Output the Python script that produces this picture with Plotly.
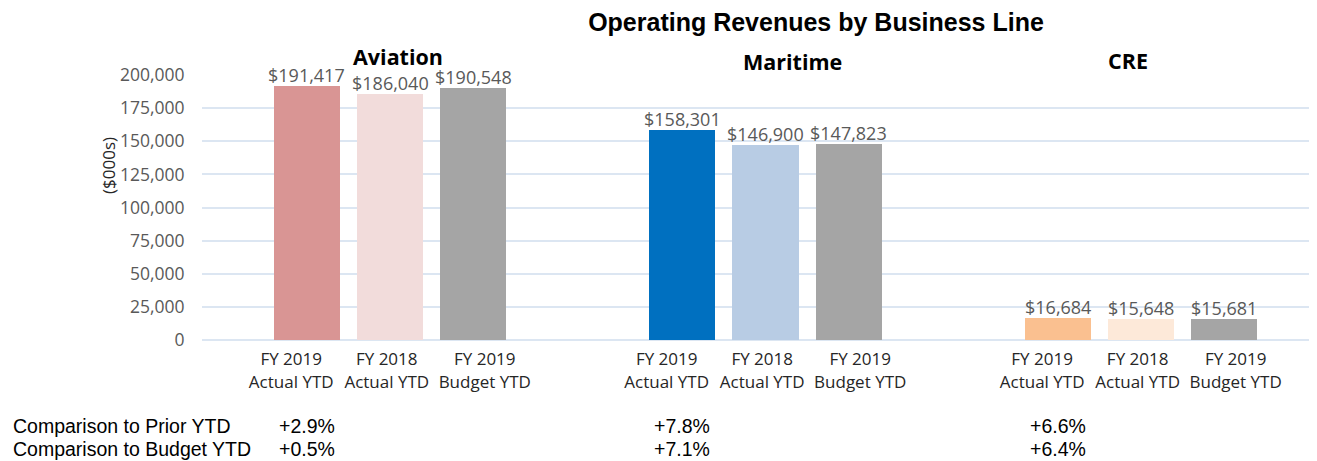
import plotly.graph_objects as go

# ---- data ----
groups = ["Aviation", "Maritime", "CRE"]
bar_labels = ["FY 2019<br>Actual YTD", "FY 2018<br>Actual YTD", "FY 2019<br>Budget YTD"]
aviation = [191417, 186040, 190548]
maritime = [158301, 146900, 147823]
cre = [16684, 15648, 15681]
prior_ytd = ["+2.9%", "+7.8%", "+6.6%"]
budget_ytd = ["+0.5%", "+7.1%", "+6.4%"]
y_ticks = [0, 25000, 50000, 75000, 100000, 125000, 150000, 175000, 200000]

# ---- layout / styling ----
colors = [
    ["#D99594", "#F2DCDB", "#A5A5A5"],
    ["#0070C0", "#B8CCE4", "#A5A5A5"],
    ["#FAC090", "#FDE9D9", "#A5A5A5"],
]
GROUP_STEP = 4.52
tick_shift = [-0.19, -0.04, 0.14]       # label offsets under bars (layout)
title_offsets = [1.1, 5.85, 9.88]       # group title x in data units (layout)
title_ypix = [56, 61, 60]
CAL = "Open Sans"
ARIAL = "Liberation Sans, Arial"

OFF = 8                      # page body margin
W, H = 1317 - OFF, 461 - OFF
PL, PT, PR, PB = 202, 75, 1310, 340   # plot box in page pixels
L, T = PL - OFF, PT - OFF
R, B = W - (PR - OFF), H - (PB - OFF)
PW, PH = PR - PL, PB - PT


def py(ypix):
    return (PB - ypix) / PH


def px(xpix):
    return (xpix - PL) / PW


fig = go.Figure()
series = [aviation, maritime, cre]
tickvals, ticktext = [], []
anns = []
for g, vals in enumerate(series):
    xs = [g * GROUP_STEP + i for i in range(len(vals))]
    tickvals += [x + s for x, s in zip(xs, tick_shift)]
    ticktext += bar_labels
    fig.add_trace(go.Bar(
        x=xs, y=vals, width=0.795,
        marker=dict(color=colors[g], line=dict(width=0)),
        showlegend=False, hoverinfo="skip",
    ))
    for x, v in zip(xs, vals):
        anns.append(dict(x=x, y=v, xref="x", yref="y", text=f"${v:,}",
                         xanchor="center", yanchor="bottom", yshift=-3,
                         showarrow=False,
                         font=dict(family=CAL, size=18, color="#595959")))

fig.update_layout(
    width=W, height=H,
    margin=dict(l=L, r=R, t=T, b=B, autoexpand=False),
    plot_bgcolor="white", paper_bgcolor="white",
    bargap=0,
    title=dict(text="<b>Operating Revenues by Business Line</b>",
               x=(816 - OFF) / W, xanchor="center", xref="container",
               y=1 - (22 - OFF) / H, yanchor="middle", yref="container",
               font=dict(family=ARIAL, size=25, color="#000000")),
    xaxis=dict(range=[-1.264, 2 * GROUP_STEP + 2 + 1.035], tickvals=tickvals, ticktext=ticktext,
               showgrid=False, zeroline=False, showline=False, automargin=False,
               tickangle=0,
               tickfont=dict(family=CAL, size=17, color="#262626"),
               ticks="outside", ticklen=4, tickcolor="rgba(0,0,0,0)"),
    yaxis=dict(range=[0, 200000], tickvals=y_ticks, tickformat=",d", automargin=False,
               showgrid=True, gridcolor="#DCE6F2", gridwidth=2,
               zeroline=True, zerolinecolor="#DCE6F2", zerolinewidth=2,
               showline=False,
               tickfont=dict(family=CAL, size=17.5, color="#595959"),
               ticks="outside", ticklen=13, tickcolor="rgba(0,0,0,0)"),
)

for g, name in enumerate(groups):
    anns.append(dict(x=title_offsets[g], y=py(title_ypix[g]), xref="x", yref="paper",
                     xanchor="center", yanchor="middle",
                     text=f"<b>{name}</b>", showarrow=False,
                     font=dict(family=CAL, size=21.5, color="#000000")))
    anns.append(dict(x=g * GROUP_STEP, y=py(426), xref="x", yref="paper",
                     xanchor="center", yanchor="middle",
                     text=prior_ytd[g], showarrow=False,
                     font=dict(family=ARIAL, size=19.5, color="#000000")))
    anns.append(dict(x=g * GROUP_STEP, y=py(449), xref="x", yref="paper",
                     xanchor="center", yanchor="middle",
                     text=budget_ytd[g], showarrow=False,
                     font=dict(family=ARIAL, size=19.5, color="#000000")))
for text, ypix in [("Comparison to Prior YTD", 426), ("Comparison to Budget YTD", 449)]:
    anns.append(dict(x=px(11), y=py(ypix), xref="paper", yref="paper",
                     text=text, showarrow=False, xanchor="left", yanchor="middle",
                     font=dict(family=ARIAL, size=19.5, color="#000000")))
anns.append(dict(x=px(108), y=py(166), xref="paper", yref="paper",
                 xanchor="center", yanchor="middle",
                 text="($000s)", textangle=-90, showarrow=False,
                 font=dict(family=CAL, size=17, color="#262626")))
fig.update_layout(annotations=anns)

fig.write_html("out.html")
